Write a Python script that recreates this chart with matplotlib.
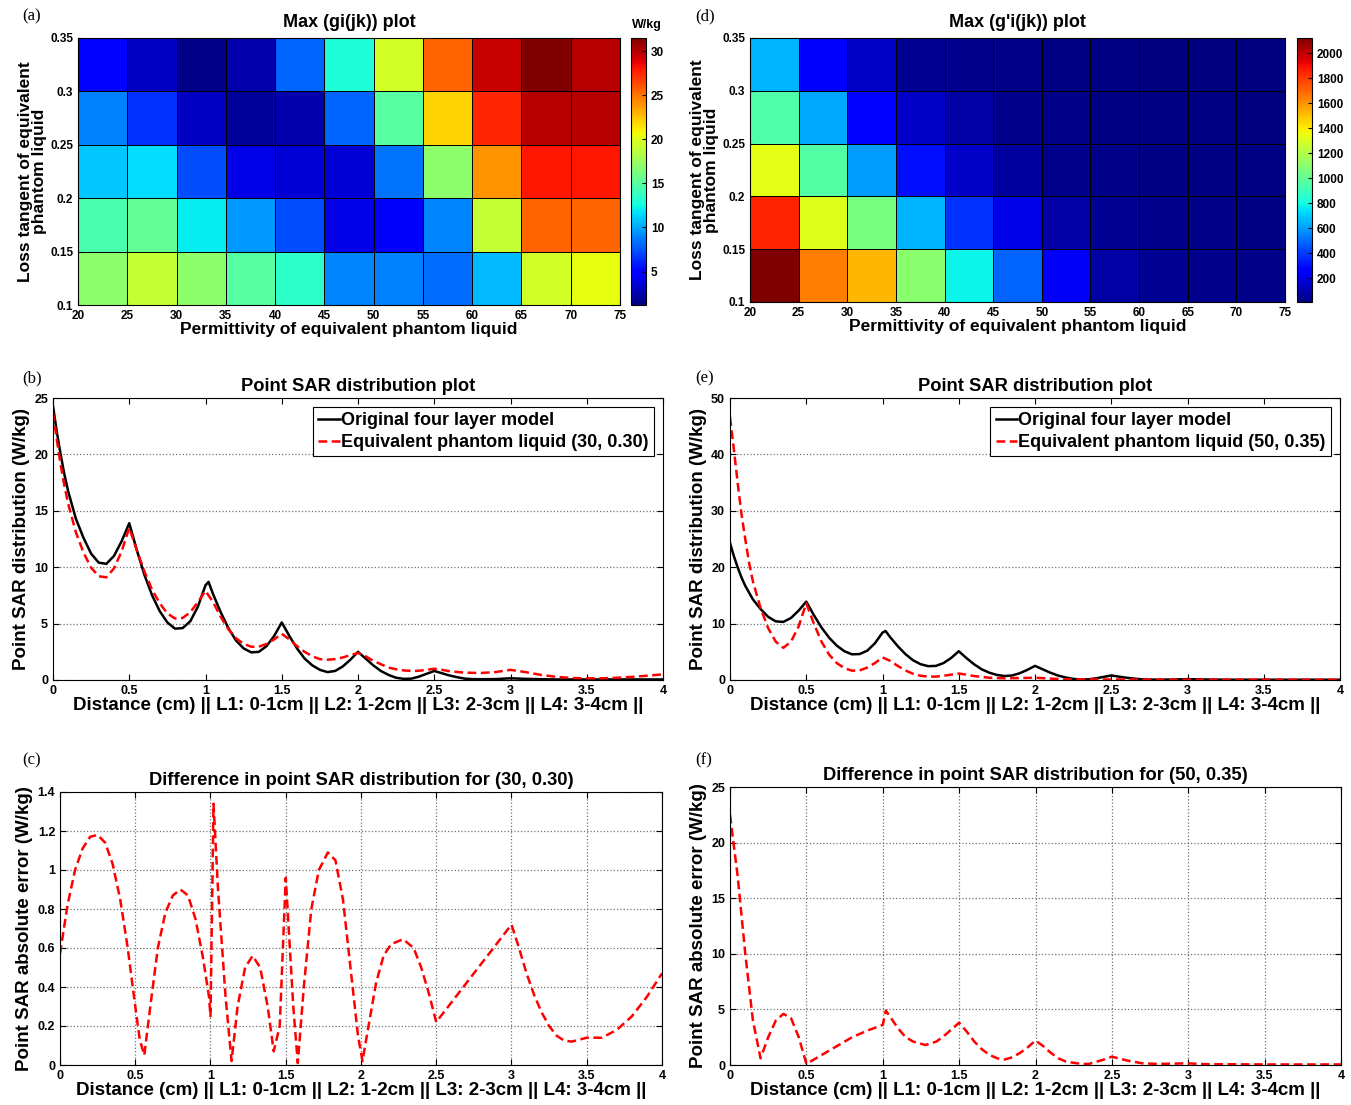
import numpy as np
import matplotlib
matplotlib.use("Agg")
import matplotlib.pyplot as plt

plt.rcParams['font.family'] = ['Liberation Sans', 'DejaVu Sans']
plt.rcParams['font.weight'] = 'bold'

# ---------------- data ----------------
perm_edges = [20, 25, 30, 35, 40, 45, 50, 55, 60, 65, 70, 75]
tan_edges = [0.10, 0.15, 0.20, 0.25, 0.30, 0.35]

# rows from bottom (0.10-0.15) to top (0.30-0.35)
max_g = [
    [17, 19, 17, 15, 13.5, 9, 8.8, 8.3, 10.5, 19.5, 20.3],
    [14.5, 15.5, 12, 9.5, 7.3, 4, 4.5, 9, 19, 25.5, 25.5],
    [11, 11.5, 7.3, 4, 3.5, 3.5, 8.5, 17, 24, 28, 28],
    [8.8, 6.5, 3, 2, 2.5, 8, 15, 22, 27.5, 30, 30],
    [5, 3, 1.5, 2.5, 8, 13, 19.5, 25.5, 29.5, 31.5, 30],
]
max_gp = [
    [2120, 1650, 1520, 1100, 780, 480, 230, 80, 50, 40, 30],
    [1850, 1320, 1050, 650, 380, 200, 80, 50, 35, 30, 25],
    [1330, 960, 600, 300, 150, 70, 40, 30, 25, 20, 20],
    [950, 620, 280, 150, 80, 40, 30, 25, 20, 20, 15],
    [650, 260, 150, 50, 40, 30, 25, 20, 15, 15, 12],
]

orig_x = [0, 0.025, 0.05, 0.075, 0.1, 0.15, 0.2, 0.25, 0.3, 0.35, 0.4, 0.45, 0.5, 0.55, 0.6, 0.65, 0.7, 0.75,
          0.8, 0.85, 0.9, 0.95, 1.0, 1.02, 1.05, 1.1, 1.15, 1.2, 1.25, 1.3, 1.35, 1.4, 1.45, 1.5,
          1.55, 1.6, 1.65, 1.7, 1.75, 1.8, 1.85, 1.9, 1.95, 2.0, 2.05, 2.1, 2.15, 2.2, 2.25, 2.3,
          2.35, 2.4, 2.45, 2.5, 2.55, 2.6, 2.65, 2.7, 2.75, 2.8, 2.9, 3.0, 3.1, 3.2, 3.3, 3.5, 3.7, 4.0]
orig_y = [24.3, 22.0, 20.0, 18.2, 16.7, 14.3, 12.6, 11.2, 10.4, 10.3, 11.0, 12.3, 13.9, 11.5, 9.3, 7.5, 6.1, 5.1,
          4.55, 4.6, 5.2, 6.5, 8.4, 8.7, 7.6, 6.0, 4.6, 3.5, 2.8, 2.45, 2.5, 3.0, 3.9, 5.1,
          3.9, 2.8, 1.9, 1.3, 0.9, 0.7, 0.8, 1.2, 1.8, 2.5, 1.9, 1.3, 0.8, 0.45, 0.2, 0.1,
          0.12, 0.3, 0.55, 0.8, 0.6, 0.4, 0.25, 0.12, 0.08, 0.07, 0.08, 0.15, 0.1, 0.07, 0.05, 0.05, 0.05, 0.05]

eq30_x = [0, 0.025, 0.05, 0.075, 0.1, 0.15, 0.2, 0.25, 0.3, 0.35, 0.4, 0.45, 0.5, 0.55, 0.6, 0.65, 0.7, 0.75,
          0.8, 0.85, 0.9, 0.95, 1.0, 1.05, 1.1, 1.15, 1.2, 1.25, 1.3, 1.35, 1.4, 1.45, 1.5,
          1.55, 1.6, 1.65, 1.7, 1.75, 1.8, 1.85, 1.9, 1.95, 2.0, 2.05, 2.1, 2.15, 2.2, 2.25, 2.3,
          2.35, 2.4, 2.45, 2.5, 2.55, 2.6, 2.7, 2.8, 2.9, 3.0, 3.1, 3.2, 3.3, 3.4, 3.5, 3.6, 3.7,
          3.8, 3.9, 4.0]
eq30_y = [23.7, 21.3, 19.1, 17.2, 15.6, 13.1, 11.3, 9.95, 9.2, 9.1, 9.9, 11.4, 13.5, 11.5, 9.6, 8.0, 6.8, 5.9,
          5.45, 5.5, 6.0, 6.9, 7.9, 6.9, 5.6, 4.5, 3.7, 3.2, 2.95, 2.95, 3.2, 3.6, 4.1,
          3.6, 3.0, 2.5, 2.1, 1.85, 1.8, 1.85, 2.0, 2.2, 2.4, 2.1, 1.7, 1.4, 1.1, 0.95, 0.85,
          0.8, 0.82, 0.9, 1.0, 0.9, 0.78, 0.65, 0.62, 0.7, 0.9, 0.7, 0.45, 0.28, 0.18, 0.15, 0.15, 0.2,
          0.28, 0.38, 0.5]

eq50_x = [0, 0.025, 0.05, 0.075, 0.1, 0.125, 0.15, 0.2, 0.25, 0.3, 0.35, 0.4, 0.45, 0.5, 0.55, 0.6, 0.65, 0.7, 0.75,
          0.8, 0.85, 0.9, 0.95, 1.0, 1.05, 1.1, 1.15, 1.2, 1.25, 1.3, 1.35, 1.4, 1.45, 1.5,
          1.55, 1.6, 1.7, 1.8, 1.9, 2.0, 2.1, 2.2, 2.5, 3.0, 4.0]
eq50_y = [46.6, 41, 35, 29.5, 25, 20.8, 17.5, 12.8, 9.2, 6.8, 5.7, 6.8, 9.5, 13.6, 10.0, 6.8, 4.5, 3.0, 2.1,
          1.65, 1.7, 2.2, 3.0, 4.0, 3.4, 2.5, 1.7, 1.1, 0.75, 0.6, 0.6, 0.75, 0.95, 1.15,
          0.95, 0.7, 0.4, 0.3, 0.35, 0.4, 0.25, 0.12, 0.1, 0.05, 0.05]

diff30_x = [0, 0.05, 0.1, 0.15, 0.2, 0.25, 0.3, 0.35, 0.4, 0.45, 0.5, 0.53, 0.56, 0.6, 0.65, 0.7,
            0.75, 0.8, 0.85, 0.9, 0.95, 0.99, 1.0, 1.02, 1.05, 1.1, 1.14, 1.18, 1.23, 1.28, 1.33,
            1.38, 1.42, 1.46, 1.5, 1.55, 1.58, 1.62, 1.67, 1.72, 1.78, 1.83, 1.88, 1.93, 1.98, 2.01,
            2.05, 2.1, 2.15, 2.2, 2.28, 2.35, 2.4, 2.45, 2.5, 2.75, 3.0, 3.05, 3.1, 3.15, 3.2, 3.25,
            3.3, 3.35, 3.4, 3.45, 3.5, 3.6, 3.7, 3.8, 3.9, 4.0]
diff30_y = [0.57, 0.82, 1.0, 1.11, 1.17, 1.18, 1.14, 1.03, 0.85, 0.6, 0.3, 0.13, 0.05, 0.3, 0.6, 0.78,
            0.87, 0.9, 0.87, 0.75, 0.55, 0.35, 0.25, 1.34, 0.9, 0.35, 0.02, 0.3, 0.5, 0.56, 0.5,
            0.3, 0.07, 0.2, 0.96, 0.3, 0.01, 0.4, 0.8, 1.0, 1.09, 1.05, 0.85, 0.5, 0.15, 0.02,
            0.2, 0.42, 0.56, 0.62, 0.645, 0.6, 0.5, 0.37, 0.22, 0.47, 0.72, 0.6, 0.47, 0.36, 0.27, 0.2,
            0.15, 0.125, 0.12, 0.13, 0.14, 0.14, 0.18, 0.25, 0.35, 0.47]

diff50_x = [0, 0.05, 0.1, 0.15, 0.2, 0.25, 0.3, 0.35, 0.4, 0.45, 0.5, 0.6, 0.7, 0.8, 0.9, 1.0,
            1.02, 1.05, 1.1, 1.15, 1.2, 1.28, 1.35, 1.4, 1.45, 1.5, 1.55, 1.6, 1.65, 1.7, 1.75,
            1.8, 1.85, 1.9, 1.95, 2.0, 2.05, 2.1, 2.15, 2.2, 2.3, 2.35, 2.4, 2.45, 2.5, 2.6, 2.7,
            2.8, 3.0, 3.1, 3.5, 4.0]
diff50_y = [22.5, 17, 10, 4, 0.6, 2.5, 4.0, 4.6, 4.2, 2.5, 0.1, 0.9, 1.7, 2.5, 3.1, 3.6,
            4.9, 4.3, 3.3, 2.5, 2.1, 1.8, 2.1, 2.6, 3.2, 3.8, 3.0, 2.1, 1.4, 0.9, 0.6,
            0.5, 0.7, 1.1, 1.6, 2.2, 1.7, 1.1, 0.6, 0.3, 0.1, 0.1, 0.3, 0.5, 0.75, 0.4, 0.15,
            0.1, 0.15, 0.08, 0.05, 0.05]

xlabel_txt = "Distance (cm) || L1: 0-1cm || L2: 1-2cm || L3: 2-3cm || L4: 3-4cm ||"

# ---------------- figure ----------------
W, H = 1351, 1105
fig = plt.figure(figsize=(W / 100, H / 100), dpi=100)

LBL = 13.5
TTL = 13.2
TCK = 9


def ax_px(l, t, r, b):
    return fig.add_axes([l / W, 1 - b / H, (r - l) / W, (b - t) / H])


def style_ticks(ax, size=TCK):
    ax.tick_params(direction='in', top=True, right=True, labelsize=size, length=4, width=0.8)
    for lab in ax.get_xticklabels() + ax.get_yticklabels():
        lab.set_fontweight('bold')


def heat(ax, cax, data, vmin, vmax, title, cticks):
    m = ax.pcolormesh(perm_edges, tan_edges, np.array(data), cmap='jet', vmin=vmin, vmax=vmax,
                      edgecolors='k', linewidth=0.6)
    ax.set_xlim(20, 75)
    ax.set_ylim(0.1, 0.35)
    ax.set_xticks(perm_edges)
    ax.set_yticks(tan_edges)
    ax.set_yticklabels(['0.1', '0.15', '0.2', '0.25', '0.3', '0.35'])
    ax.set_title(title, fontsize=13, fontweight='bold', pad=8)
    ax.set_xlabel("Permittivity of equivalent phantom liquid", fontsize=12.5, fontweight='bold', labelpad=0)
    ax.set_ylabel("Loss tangent of equivalent\nphantom liquid", fontsize=12.5, fontweight='bold',
                  labelpad=2, linespacing=0.95)
    style_ticks(ax, 8.5)
    ax.tick_params(top=False, right=False, length=3)
    cb = fig.colorbar(m, cax=cax, ticks=cticks)
    cb.ax.tick_params(direction='in', labelsize=8.5, length=3)
    for lab in cb.ax.get_yticklabels():
        lab.set_fontweight('bold')
    cb.outline.set_linewidth(0.8)
    return cb


def lineplot(ax, title, ymax, grid_x):
    ax.set_xlim(0, 4)
    ax.set_ylim(0, ymax)
    ax.set_xticks(np.arange(0, 4.01, 0.5))
    ax.set_xticklabels(['0', '0.5', '1', '1.5', '2', '2.5', '3', '3.5', '4'])
    ax.set_title(title, fontsize=TTL, fontweight='bold', pad=5)
    ax.set_xlabel(xlabel_txt, fontsize=LBL, fontweight='bold', labelpad=0)
    ax.yaxis.grid(True, linestyle=':', color='0.45', linewidth=0.9)
    if grid_x:
        ax.xaxis.grid(True, linestyle=':', color='0.45', linewidth=0.9)
    style_ticks(ax)


def add_legend(ax):
    leg = ax.legend(loc='upper right', fontsize=13, handlelength=1.2, handletextpad=0.05,
                    borderpad=0.3, labelspacing=0.25, fancybox=False, framealpha=1,
                    borderaxespad=0.5)
    leg.get_frame().set_edgecolor('k')
    leg.get_frame().set_linewidth(0.8)
    for t in leg.get_texts():
        t.set_fontweight('bold')


DASH = (0, (3.5, 1.8))

# (a)
ax_a = ax_px(78, 38, 620, 305)
cax_a = ax_px(631, 38, 646, 305)
heat(ax_a, cax_a, max_g, 1.2, 31.5, "Max (gi(jk)) plot", [5, 10, 15, 20, 25, 30])
fig.text(632 / W, 1 - 25 / H, "W/kg", fontsize=9, fontweight='bold', ha='left', va='center')

# (d)
ax_d = ax_px(750, 38, 1285, 302)
cax_d = ax_px(1297, 38, 1312, 302)
heat(ax_d, cax_d, max_gp, 10, 2120, "Max (g'i(jk)) plot", list(range(200, 2001, 200)))

# (b)
ax_b = ax_px(53, 398, 663, 680)
lineplot(ax_b, "Point SAR distribution plot", 25, False)
ax_b.set_yticks([0, 5, 10, 15, 20, 25])
ax_b.plot(orig_x, orig_y, color='k', lw=1.8, label="Original four layer model")
ax_b.plot(eq30_x, eq30_y, color='red', lw=1.8, ls=DASH, label="Equivalent phantom liquid (30, 0.30)")
ax_b.set_ylabel("Point SAR distribution (W/kg)", fontsize=LBL, fontweight='bold', labelpad=3)
add_legend(ax_b)
style_ticks(ax_b)

# (e)
ax_e = ax_px(730, 398, 1340, 680)
lineplot(ax_e, "Point SAR distribution plot", 50, False)
ax_e.set_yticks([0, 10, 20, 30, 40, 50])
ax_e.plot(orig_x, orig_y, color='k', lw=1.8, label="Original four layer model")
ax_e.plot(eq50_x, eq50_y, color='red', lw=1.8, ls=DASH, label="Equivalent phantom liquid (50, 0.35)")
ax_e.set_ylabel("Point SAR distribution (W/kg)", fontsize=LBL, fontweight='bold', labelpad=3)
add_legend(ax_e)
style_ticks(ax_e)

# (c)
ax_c = ax_px(60, 792, 662, 1065)
lineplot(ax_c, "Difference in point SAR distribution for (30, 0.30)", 1.4, True)
ax_c.set_yticks(np.arange(0, 1.41, 0.2))
ax_c.set_yticklabels(['0', '0.2', '0.4', '0.6', '0.8', '1', '1.2', '1.4'])
ax_c.plot(diff30_x, diff30_y, color='red', lw=1.8, ls=DASH)
ax_c.set_ylabel("Point SAR absolute error (W/kg)", fontsize=LBL, fontweight='bold', labelpad=3)
style_ticks(ax_c)

# (f)
ax_f = ax_px(730, 787, 1341, 1065)
lineplot(ax_f, "Difference in point SAR distribution for (50, 0.35)", 25, True)
ax_f.set_yticks([0, 5, 10, 15, 20, 25])
ax_f.plot(diff50_x, diff50_y, color='red', lw=1.8, ls=DASH)
ax_f.set_ylabel("Point SAR absolute error (W/kg)", fontsize=LBL, fontweight='bold', labelpad=3)
style_ticks(ax_f)

# panel letters
serif = ['Liberation Serif', 'DejaVu Serif']
for lbl, x, y in [("(a)", 22, 16), ("(d)", 695, 16), ("(b)", 22, 378), ("(e)", 695, 378),
                  ("(c)", 22, 760), ("(f)", 695, 760)]:
    fig.text(x / W, 1 - y / H, lbl, fontsize=12, family=serif, fontweight='normal', va='center')

fig.savefig("out.png", dpi=100)
